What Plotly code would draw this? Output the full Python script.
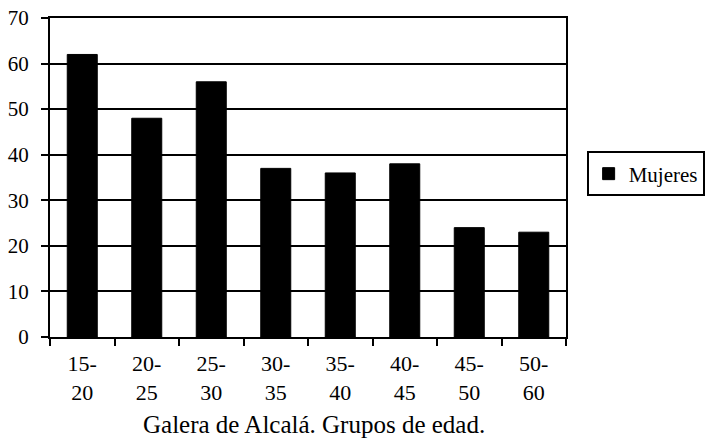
import plotly.graph_objects as go

categories = ["15-<br>20", "20-<br>25", "25-<br>30", "30-<br>35", "35-<br>40", "40-<br>45", "45-<br>50", "50-<br>60"]
mujeres = [62, 48, 56, 37, 36, 38, 24, 23]
series_name = "Mujeres"
x_title = "Galera de Alcalá. Grupos de edad."

FONT = "Liberation Serif, Times New Roman, serif"

fig = go.Figure()
fig.add_trace(go.Bar(
    x=categories, y=mujeres, name=series_name,
    marker=dict(color="black", line=dict(color="black", width=1)),
    showlegend=True,
))

fig.update_layout(
    width=706, height=439,
    margin=dict(l=50, r=140, t=18, b=102, autoexpand=False),
    paper_bgcolor="white", plot_bgcolor="white",
    font=dict(family=FONT, size=20, color="black"),
    bargap=0.535,
    showlegend=True,
    legend=dict(
        x=1.04, y=0.511, xanchor="left", yanchor="middle",
        bordercolor="black", borderwidth=2,
        font=dict(family=FONT, size=21, color="black"),
        tracegroupgap=0, itemwidth=30,
    ),
    xaxis=dict(
        type="category",
        showline=True, linecolor="black", linewidth=2, mirror=True,
        ticks="outside", tickson="boundaries", ticklen=7, tickwidth=2, tickcolor="black",
        showgrid=False,
        ticklabelstandoff=6,
        tickfont=dict(family=FONT, size=22, color="black"),
    ),
    yaxis=dict(
        range=[0, 70], dtick=10, tick0=0,
        showline=True, linecolor="black", linewidth=2, mirror=True,
        ticks="outside", ticklen=7, tickwidth=2, tickcolor="black",
        showgrid=True, gridcolor="black", gridwidth=2,
        zeroline=False,
        ticklabelstandoff=8,
        tickfont=dict(family=FONT, size=21, color="black"),
    ),
    annotations=[dict(
        text=x_title, xref="paper", yref="paper",
        x=(314 - 50) / 516, y=(337 - 424) / 319,
        xanchor="center", yanchor="middle", showarrow=False,
        font=dict(family=FONT, size=25, color="black"),
    )],
)

fig.write_html(
    "out.html",
    config={"displayModeBar": False},
    post_script="document.body.style.margin='0';document.body.style.padding='0';",
)
